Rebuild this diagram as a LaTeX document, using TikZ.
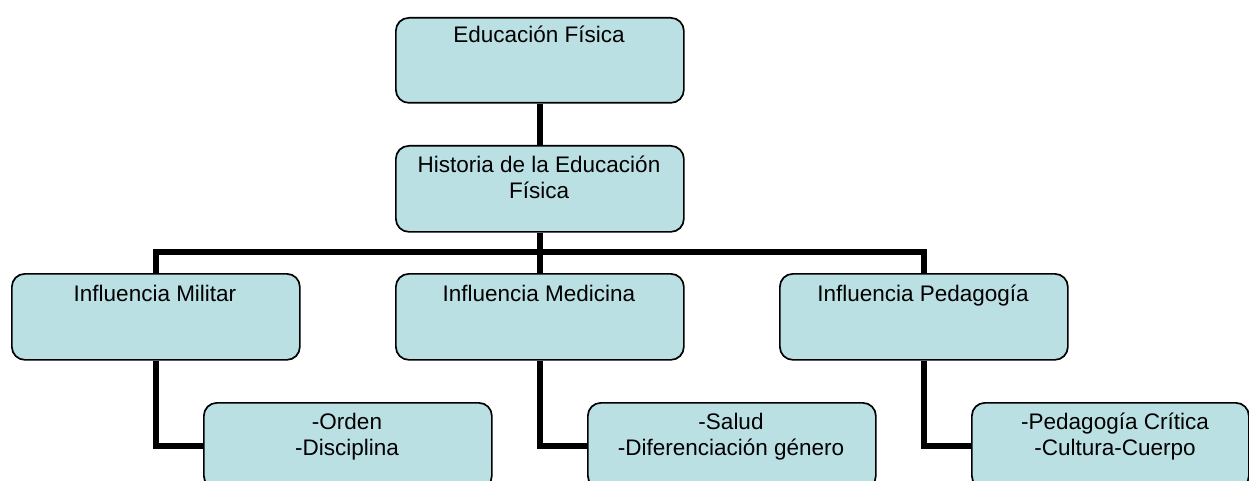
\documentclass[tikz,border=0pt]{standalone}
\usepackage{fontspec}
\setmainfont{Liberation Sans}
\definecolor{boxfill}{RGB}{187,224,227}
\begin{document}
\begin{tikzpicture}[x=1pt,y=-1pt,
  box/.style={draw=black, line width=1.7pt, fill=boxfill, rounded corners=13pt,
    minimum width=288pt, minimum height=86pt, anchor=north west, inner sep=0pt},
  lbl/.style={anchor=base, align=center, inner sep=0pt, font=\fontsize{22.5}{26}\selectfont},
  conn/.style={line width=6pt, draw=black, line join=miter}]
\useasboundingbox (0,0) rectangle (1249,481);
\coordinate (bus) at (539,252);
% boxes
\node[box, minimum height=85pt] (ef) at (395,17) {};
\node[box] (hist) at (395,145) {};
\node[box] (mil) at (11,273) {};
\node[box] (med) at (395,273) {};
\node[box] (ped) at (779,273) {};
\node[box] (ord) at (203,402) {};
\node[box] (sal) at (587,402) {};
\node[box, minimum width=277pt] (cri) at (971,402) {};
% connectors
\draw[conn] (ef.south) -- (hist.north);
\draw[conn] (hist.south) -- (med.north);
\draw[conn] (mil.north) |- (bus) -| (ped.north);
\draw[conn] (mil.south) |- (ord.west);
\draw[conn] (med.south) |- (sal.west);
\draw[conn] (ped.south) |- (cri.west);
% labels (base = baseline of last line)
\node[lbl] (tef) at (539,43) {Educación Física};
\node[lbl] (thist) at (539,198) {Historia de la Educación\\Física};
\node[lbl] (tmil) at (155,301) {Influencia Militar};
\node[lbl] (tmed) at (539,301) {Influencia Medicina};
\node[lbl] (tped) at (923,301) {Influencia Pedagogía};
\node[lbl] (tord) at (347,455) {-Orden\\-Disciplina};
\node[lbl] (tsal) at (731,455) {-Salud\\-Diferenciación género};
\node[lbl] (tcri) at (1115,455) {-Pedagogía Crítica\\-Cultura-Cuerpo};
\end{tikzpicture}
\end{document}
